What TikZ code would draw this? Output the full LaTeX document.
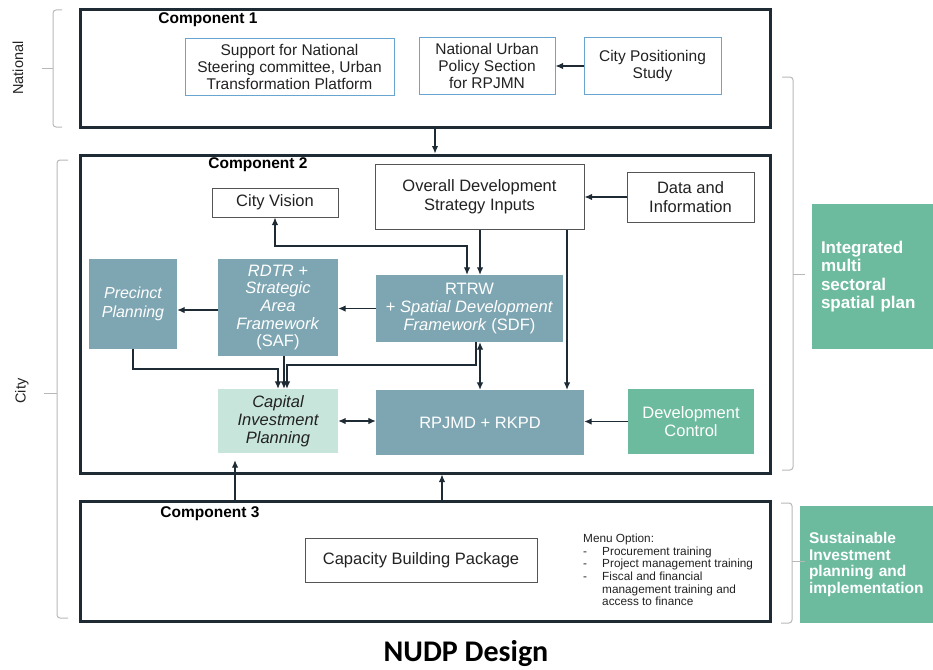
\documentclass[tikz,border=0pt]{standalone}
\usepackage{fontspec}
\setmainfont{Liberation Sans}
\newfontfamily\calibri{Carlito}
\usetikzlibrary{arrows.meta}
\definecolor{dk}{HTML}{1E2B35}
\definecolor{lb}{HTML}{6AA5D2}
\definecolor{bgr}{HTML}{7EA6B2}
\definecolor{lgr}{HTML}{C7E5DB}
\definecolor{grn}{HTML}{6DBB9F}
\definecolor{brc}{HTML}{B8B8B8}
\definecolor{gbd}{HTML}{555555}
\definecolor{txt}{HTML}{222222}
\begin{document}
\begin{tikzpicture}[x=1pt,y=-1pt,
  comp/.style={draw=dk,line width=3pt,inner sep=0pt,minimum width=690pt},
  complbl/.style={font=\fontsize{15.5}{17}\selectfont\bfseries,text=black,inner sep=0pt},
  bluebox/.style={draw=lb,line width=1pt,fill=white,inner sep=0pt,align=center,text=txt,font=\fontsize{15.5}{17}\selectfont},
  wbox/.style={draw=gbd,line width=1pt,fill=white,inner sep=0pt,align=center,text=txt,font=\fontsize{16.5}{18.5}\selectfont},
  gbox/.style={fill=bgr,inner sep=0pt,align=center,text=white,font=\fontsize{16.5}{17.7}\selectfont},
  capbox/.style={fill=lgr,inner sep=0pt,align=center,text=txt,font=\fontsize{16.5}{18}\selectfont\itshape},
  grbox/.style={fill=grn,inner sep=0pt,align=center,text=white,font=\fontsize{16.5}{18.5}\selectfont},
  sidebox/.style={fill=grn,inner sep=0pt,align=left,text=white},
  arr/.style={draw=dk,line width=1.1pt,-{Latex[length=7.5pt,width=6.5pt]}},
  arrb/.style={draw=dk,line width=1.1pt,{Latex[length=7.5pt,width=6.5pt]}-{Latex[length=7.5pt,width=6.5pt]}},
  brace/.style={draw=brc,line width=1pt,rounded corners=3pt},
  sidelbl/.style={font=\fontsize{14.5}{16}\selectfont,text=txt,rotate=90,inner sep=0pt}
]
\useasboundingbox (0,0) rectangle (933,669);

% component frames
\node[comp,minimum height=117pt] (c1) at (425,68.5) {};
\node[comp,minimum height=318pt] (c2) at (425,314) {};
\node[comp,minimum height=120pt] (c3) at (425,561) {};
\node[complbl] (l1) at (208,20) {Component 1};
\node[complbl] (l2) at (258,165) {Component 2};
\node[complbl] (l3) at (210,514) {Component 3};

% component 1
\node[bluebox,minimum width=209pt,minimum height=56pt] (sup) at (289.5,67) {Support for National\\Steering committee, Urban\\Transformation Platform};
\node[bluebox,minimum width=136pt,minimum height=56pt] (nu) at (487,66) {National Urban\\Policy Section\\for RPJMN};
\node[bluebox,minimum width=137pt,minimum height=56pt] (cp) at (652.5,66) {City Positioning\\Study};

% component 2
\node[wbox,minimum width=209pt,minimum height=65pt] (ov) at (479.5,196.5) {Overall Development\\Strategy Inputs};
\node[wbox,minimum width=126pt,minimum height=29pt] (cv) at (275,202.5) {City Vision};
\node[wbox,minimum width=127pt,minimum height=50pt] (di) at (690.5,197) {Data and\\Information};
\node[gbox,minimum width=88pt,minimum height=90pt,font=\fontsize{16}{18.5}\selectfont\itshape] (pp) at (133,304) {Precinct\\Planning};
\node[gbox,minimum width=120pt,minimum height=97pt] (rd) at (278,307.5) {\textit{RDTR +}\\\textit{Strategic}\\\textit{Area}\\\textit{Framework}\\(SAF)};
\node[gbox,minimum width=187pt,minimum height=67pt] (rt) at (469.5,308.5) {RTRW\\+ \textit{Spatial Development}\\\textit{Framework} (SDF)};
\node[capbox,minimum width=120pt,minimum height=64pt] (ci) at (278,421) {Capital\\Investment\\Planning};
\node[gbox,minimum width=208pt,minimum height=65pt] (rp) at (480,422.5) {RPJMD + RKPD};
\node[grbox,minimum width=126pt,minimum height=65pt] (dc) at (691,421.5) {Development\\Control};

% component 3
\node[wbox,minimum width=232pt,minimum height=44pt] (cb) at (421,560) {Capacity Building Package};
\node[anchor=north west,inner sep=0pt,align=left,text=txt,font=\fontsize{11.8}{12.6}\selectfont] (mo) at (583,534)
 {Menu Option:\\
  \makebox[19pt][l]{-}Procurement training\\
  \makebox[19pt][l]{-}Project management training\\
  \makebox[19pt][l]{-}Fiscal and financial\\
  \hspace*{19pt}management training and\\
  \hspace*{19pt}access to finance};

% side boxes
\node[sidebox,minimum width=120pt,minimum height=145pt,text width=104pt,inner xsep=9pt,font=\fontsize{17}{18.5}\selectfont\bfseries] (ip) at (873,276.5) {Integrated\\multi\\sectoral\\spatial plan};
\node[sidebox,minimum width=130pt,minimum height=117pt,text width=118pt,inner xsep=9pt,font=\fontsize{15.5}{16.5}\selectfont\bfseries] (si) at (868,564.5) {Sustainable\\Investment\\planning and\\implementation};

% braces
\draw[brace] (62,10) -- (53,10) -- (53,127) -- (62,127);
\draw[brace] (42,68) -- (53,68);
\draw[brace] (68,160) -- (57,160) -- (57,618) -- (68,618);
\draw[brace] (44,393) -- (57,393);
\draw[brace] (782,77) -- (793,77) -- (793,470) -- (782,470);
\draw[brace] (793,274) -- (805,274);
\draw[brace] (781,503) -- (792,503) -- (792,623) -- (781,623);
\draw[brace] (792,561) -- (805,561);
\node[sidelbl] (nat) at (18,68) {National};
\node[sidelbl] (city) at (22,391) {City};

% title
\node[font=\calibri\bfseries\fontsize{30}{34}\selectfont,inner sep=0pt] (title) at (466,654) {NUDP Design};

% helper coordinates
\coordinate (x435) at (435,0);
\coordinate (x442) at (442,0);
\coordinate (x235) at (235,0);
\coordinate (x480) at (480,0);
\coordinate (x567) at (567,0);
\coordinate (x284) at (284,0);
\coordinate (x476) at (476,0);
\coordinate (kcv) at (467,246);
\coordinate (kpp) at (278,369);
\coordinate (krt) at (287,365);

% connectors
\draw[arr] (cp.west) -- (nu.east);
\draw[arr] (c1.south -| x435) -- (c2.north -| x435);
\draw[arr] (di.west) -- (ov.east |- di.west);
\draw[arrb] (cv.south) |- (kcv) -- (rt.north -| kcv);
\draw[arr] (ov.south -| x480) -- (rt.north -| x480);
\draw[arr] (ov.south -| x567) -- (rp.north -| x567);
\draw[arr] (rt.west) -- (rd.east |- rt.west);
\draw[arr] (rd.west |- 0,310) -- (pp.east |- 0,310);
\draw[arr] (pp.south) |- (kpp) -- (ci.north -| kpp);
\draw[arr] (rd.south -| x284) -- (ci.north -| x284);
\draw[arr] (rt.south -| x476) |- (krt) -- (ci.north -| krt);
\draw[arrb] (rt.south -| x480) -- (rp.north -| x480);
\draw[arrb] (ci.east) -- (rp.west |- ci.east);
\draw[arr] (dc.west) -- (rp.east |- dc.west);
\draw[arr,shorten >=7pt] (c3.north -| x235) -- (ci.south -| x235);
\draw[arr] (c3.north -| x442) -- (c2.south -| x442);
\end{tikzpicture}
\end{document}
